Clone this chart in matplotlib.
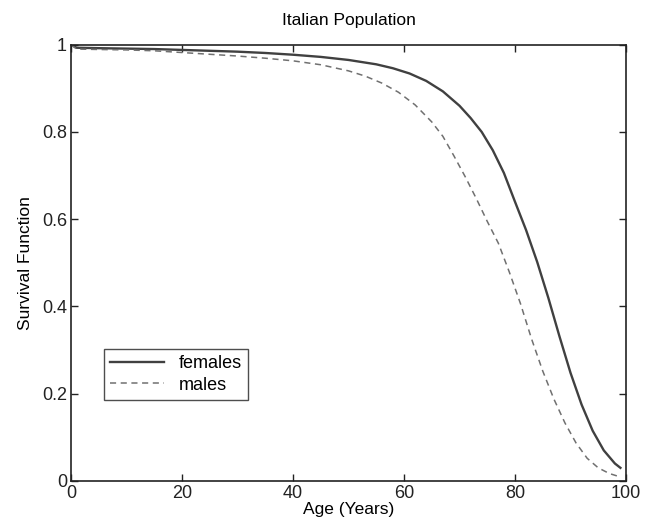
import numpy as np
import matplotlib
matplotlib.use("Agg")
from matplotlib import pyplot as plt
from matplotlib.ticker import FuncFormatter

plt.rcParams['font.family'] = ['Liberation Sans', 'DejaVu Sans']

# survival values
ages_f = [0, 1, 5, 10, 15, 20, 25, 30, 35, 40, 45, 50, 55, 58, 61, 64, 67, 70, 72, 74,
          76, 78, 80, 82, 84, 86, 88, 90, 92, 94, 96, 98, 99]
females = [1.000, 0.993, 0.992, 0.991, 0.990, 0.988, 0.986, 0.984, 0.981, 0.977, 0.972,
           0.965, 0.955, 0.946, 0.934, 0.917, 0.893, 0.860, 0.832, 0.800, 0.758, 0.706,
           0.640, 0.575, 0.502, 0.420, 0.332, 0.248, 0.175, 0.115, 0.070, 0.040, 0.030]

ages_m = [0, 1, 5, 10, 15, 20, 25, 30, 35, 40, 45, 50, 53, 56, 59, 62, 65, 67, 69, 71,
          73, 75, 77, 79, 81, 83, 85, 87, 89, 91, 93, 95, 97, 99]
males = [1.000, 0.990, 0.989, 0.988, 0.986, 0.982, 0.978, 0.974, 0.969, 0.963, 0.954,
         0.940, 0.928, 0.912, 0.891, 0.862, 0.823, 0.790, 0.745, 0.698, 0.648, 0.595,
         0.545, 0.478, 0.406, 0.325, 0.252, 0.188, 0.133, 0.087, 0.052, 0.030, 0.017, 0.009]

fig = plt.figure(figsize=(6.46, 5.32), dpi=100)
ax = fig.add_axes([0.110, 0.096, 0.859, 0.820])

ax.plot(ages_f, females, '-', color='#404040', lw=1.7, label='females')
ax.plot(ages_m, males, '--', color='#707070', lw=1.1, dashes=(4, 3), label='males')

ax.set_xlim(0, 100)
ax.set_ylim(0, 1)
ax.set_xticks(np.arange(0, 101, 20))
ax.set_yticks(np.arange(0, 1.01, 0.2))
ax.yaxis.set_major_formatter(FuncFormatter(lambda v, p: f"{v:g}"))
ax.tick_params(direction='in', length=5, width=1, labelsize=13, top=True, right=True,
               colors='#222222', pad=3)
for s in ax.spines.values():
    s.set_linewidth(1.2)
    s.set_color('#222222')

ax.set_title('Italian Population', fontsize=12.5, pad=14)
ax.set_xlabel('Age (Years)', fontsize=12.5, labelpad=0)
ax.set_ylabel('Survival Function', fontsize=12.5, labelpad=6)

leg = ax.legend(loc='lower left', bbox_to_anchor=(0.043, 0.165), fontsize=13,
                frameon=True, fancybox=False, edgecolor='#222222', handlelength=3,
                borderpad=0.35, labelspacing=0.25)
leg.get_frame().set_linewidth(1.0)

fig.savefig('out.png', dpi=100)
